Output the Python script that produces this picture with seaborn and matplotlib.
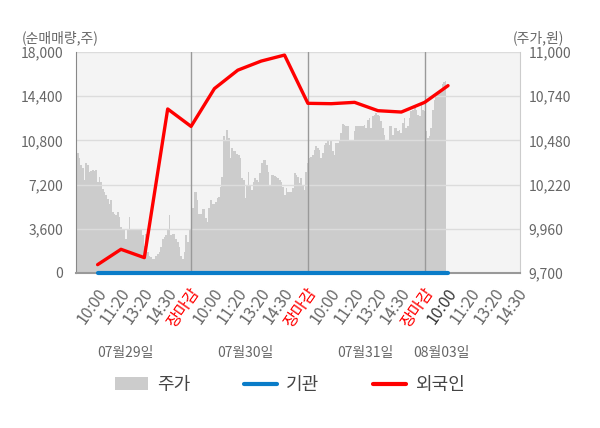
import numpy as np
import pandas as pd
import matplotlib
matplotlib.use("Agg")
import matplotlib.pyplot as plt
import matplotlib.transforms as mtrans
from matplotlib.patches import Patch
from matplotlib.lines import Line2D
import seaborn as sns

sns.set_style("white")
plt.rcParams['font.family'] = ['Noto Sans CJK KR', 'DejaVu Sans']

# ---------------- data ----------------
tick_labels = ['10:00', '11:20', '13:20', '14:30', '장마감',
               '10:00', '11:20', '13:20', '14:30', '장마감',
               '10:00', '11:20', '13:20', '14:30', '장마감',
               '10:00', '11:20', '13:20', '14:30']
date_labels = ['07월29일', '07월30일', '07월31일', '08월03일']

# net buying (shares) at each labelled time
foreign = [680, 1930, 1250, 13360, 11940, 15020, 16520, 17260, 17750,
           13820, 13790, 13900, 13220, 13110, 13900, 15260]
institution = [0] * 16

# intraday price (won), per day
price_d1 = [10375, 10405, 10375, 10336, 10316, 10247, 10346, 10336, 10296, 10300,
            10306, 10300, 10306, 10237, 10266, 10237, 10197, 10178, 10158, 10138,
            10108, 10128, 10059, 10049, 10039, 10059, 10029, 9970, 9960, 9960,
            9901, 9960, 10029, 9960, 9960, 9960, 9960, 9960, 9960, 9960,
            9921, 9861, 9930, 9822, 9802, 9792, 9782, 9782, 9802, 9812,
            9822, 9851, 9901, 9911, 9921, 9960, 10039, 9921, 9930, 9930,
            9901, 9881, 9851, 9802, 9782, 9822, 9921, 9881, 9960, 9960]
price_d2 = [9952, 10080, 10175, 10175, 10129, 10045, 10045, 10076, 10076, 10021,
            10001, 10080, 10129, 10104, 10104, 10119, 10139, 10145, 10208, 10267,
            10504, 10474, 10543, 10494, 10376, 10435, 10415, 10415, 10399, 10395,
            10376, 10257, 10248, 10139, 10218, 10293, 10218, 10188, 10238, 10257,
            10248, 10238, 10287, 10346, 10366, 10366, 10336, 10297, 10218, 10277,
            10277, 10273, 10267, 10257, 10248, 10238, 10208, 10159, 10198, 10179,
            10175, 10175, 10198, 10287, 10277, 10267, 10228, 10257, 10218, 10188,
            10297, 10346]
price_d3 = [10257, 10376, 10385, 10395, 10425, 10445, 10435, 10425, 10376, 10405,
            10454, 10464, 10478, 10454, 10474, 10415, 10395, 10464, 10464, 10484,
            10523, 10576, 10569, 10563, 10563, 10484, 10484, 10484, 10533, 10563,
            10563, 10563, 10563, 10563, 10573, 10553, 10602, 10612, 10553, 10622,
            10632, 10641, 10632, 10622, 10592, 10553, 10513, 10484, 10484, 10563,
            10563, 10513, 10553, 10553, 10533, 10543, 10523, 10582, 10612, 10553,
            10563, 10612, 10651, 10661, 10691, 10661, 10632, 10622, 10691, 10661,
            10651]
price_d4 = [10651, 10533, 10494, 10504, 10553, 10661, 10720, 10740, 10750, 10770,
            10779, 10809, 10825, 10829]

left_ticks = [0, 3600, 7200, 10800, 14400, 18000]
right_ticks = [9700, 9960, 10220, 10480, 10740, 11000]

# ---------------- layout ----------------
W, H = 600, 428
fig = plt.figure(figsize=(W / 100, H / 100), dpi=100)
ax1 = fig.add_axes([76 / W, 1 - 273 / H, 444 / W, 221 / H])
ax2 = ax1.twinx()
ax1.set_zorder(3)
ax2.set_zorder(1)
ax1.patch.set_visible(False)
ax2.patch.set_visible(True)
ax2.patch.set_facecolor('#f4f4f4')

XL, XR = -0.925, 18.08
day_bounds = [4, 9, 14]

# price area
xs = np.concatenate([
    np.linspace(XL, 4, len(price_d1)),
    np.linspace(4, 9, len(price_d2)),
    np.linspace(9, 14, len(price_d3)),
    np.linspace(14, 14.9, len(price_d4)),
])
ps = np.concatenate([price_d1, price_d2, price_d3, price_d4])
ax2.fill_between(xs, ps, right_ticks[0], step='mid', color='#cccccc', lw=0)
ax2.set_ylim(right_ticks[0], right_ticks[-1])
ax2.set_yticks(right_ticks)
ax2.set_yticklabels([f'{v:,}' for v in right_ticks])
ax2.tick_params(axis='y', length=0, pad=6, labelsize=10, labelcolor='#666666')

# lines
df = pd.DataFrame({'pos': np.arange(len(foreign)), 'foreign': foreign,
                   'inst': institution})
sns.lineplot(data=df, x='pos', y='inst', ax=ax1, color='#0a7cc8', lw=3,
             clip_on=False, zorder=4)
sns.lineplot(data=df, x='pos', y='foreign', ax=ax1, color='#ff0000', lw=2.4,
             zorder=5)

ax1.set_xlim(XL, XR)
ax1.set_ylim(left_ticks[0], left_ticks[-1])
ax1.set_yticks(left_ticks)
ax1.set_yticklabels([f'{v:,}' for v in left_ticks])
ax1.tick_params(axis='y', length=0, pad=9, labelsize=10, labelcolor='#666666')
ax1.set_xlabel('')
ax1.set_ylabel('')
ax2.set_ylabel('')

ax1.yaxis.grid(True, color='#dcdcdc', lw=1)
ax1.xaxis.grid(False)
for b in day_bounds:
    ax1.axvline(b, color='#999999', lw=1, zorder=1)

# x ticks
ax1.set_xticks(np.arange(len(tick_labels)))
ax1.set_xticklabels(tick_labels, rotation=55, ha='right', va='center',
                    rotation_mode='anchor')
ax1.tick_params(axis='x', which='major', length=0, pad=12, labelsize=11.5,
                labelcolor='#666666')
ax1.set_xticks([XL] + day_bounds + [XR], minor=True)
ax1.tick_params(axis='x', which='minor', length=5, color='#999999', width=1)
offset = mtrans.ScaledTranslation(4 / 72, 0, fig.dpi_scale_trans)
for i, lab in enumerate(ax1.get_xticklabels()):
    lab.set_transform(lab.get_transform() + offset)
    if tick_labels[i] == '장마감':
        lab.set_color('#ff0000')
    elif i == 15:
        lab.set_color('#333333')

# spines
for s in ['top', 'right']:
    ax1.spines[s].set_visible(False)
ax1.spines['left'].set_color('#888888')
ax1.spines['bottom'].set_color('#999999')
ax1.spines['bottom'].set_linewidth(1.5)
for s in ['top', 'left', 'bottom']:
    ax2.spines[s].set_visible(False)
ax2.spines['right'].set_color('#cccccc')

# date labels
trans = mtrans.blended_transform_factory(ax1.transData, ax1.transAxes)
for p, d in zip([1.17, 6.31, 11.45, 14.7], date_labels):
    ax1.text(p, -0.362, d, transform=trans, ha='center', va='center',
             fontsize=10, color='#666666')

# axis titles
fig.text(22 / W, 1 - 38 / H, '(순매매량,주)', ha='left', va='center',
         fontsize=10, color='#666666')
fig.text(564 / W, 1 - 38 / H, '(주가,원)', ha='right', va='center',
         fontsize=10, color='#666666')

# legend
handles = [Patch(facecolor='#cccccc', edgecolor='none'),
           Line2D([], [], color='#0a7cc8', lw=3),
           Line2D([], [], color='#ff0000', lw=3)]
fig.legend(handles, ['주가', '기관', '외국인'], loc='center',
           bbox_to_anchor=(0.483, 1 - 385 / H), ncol=3, frameon=False,
           fontsize=13, handlelength=1.8, handletextpad=0.5,
           columnspacing=3.0, labelcolor='#444444')

fig.savefig('out.png', dpi=100)
